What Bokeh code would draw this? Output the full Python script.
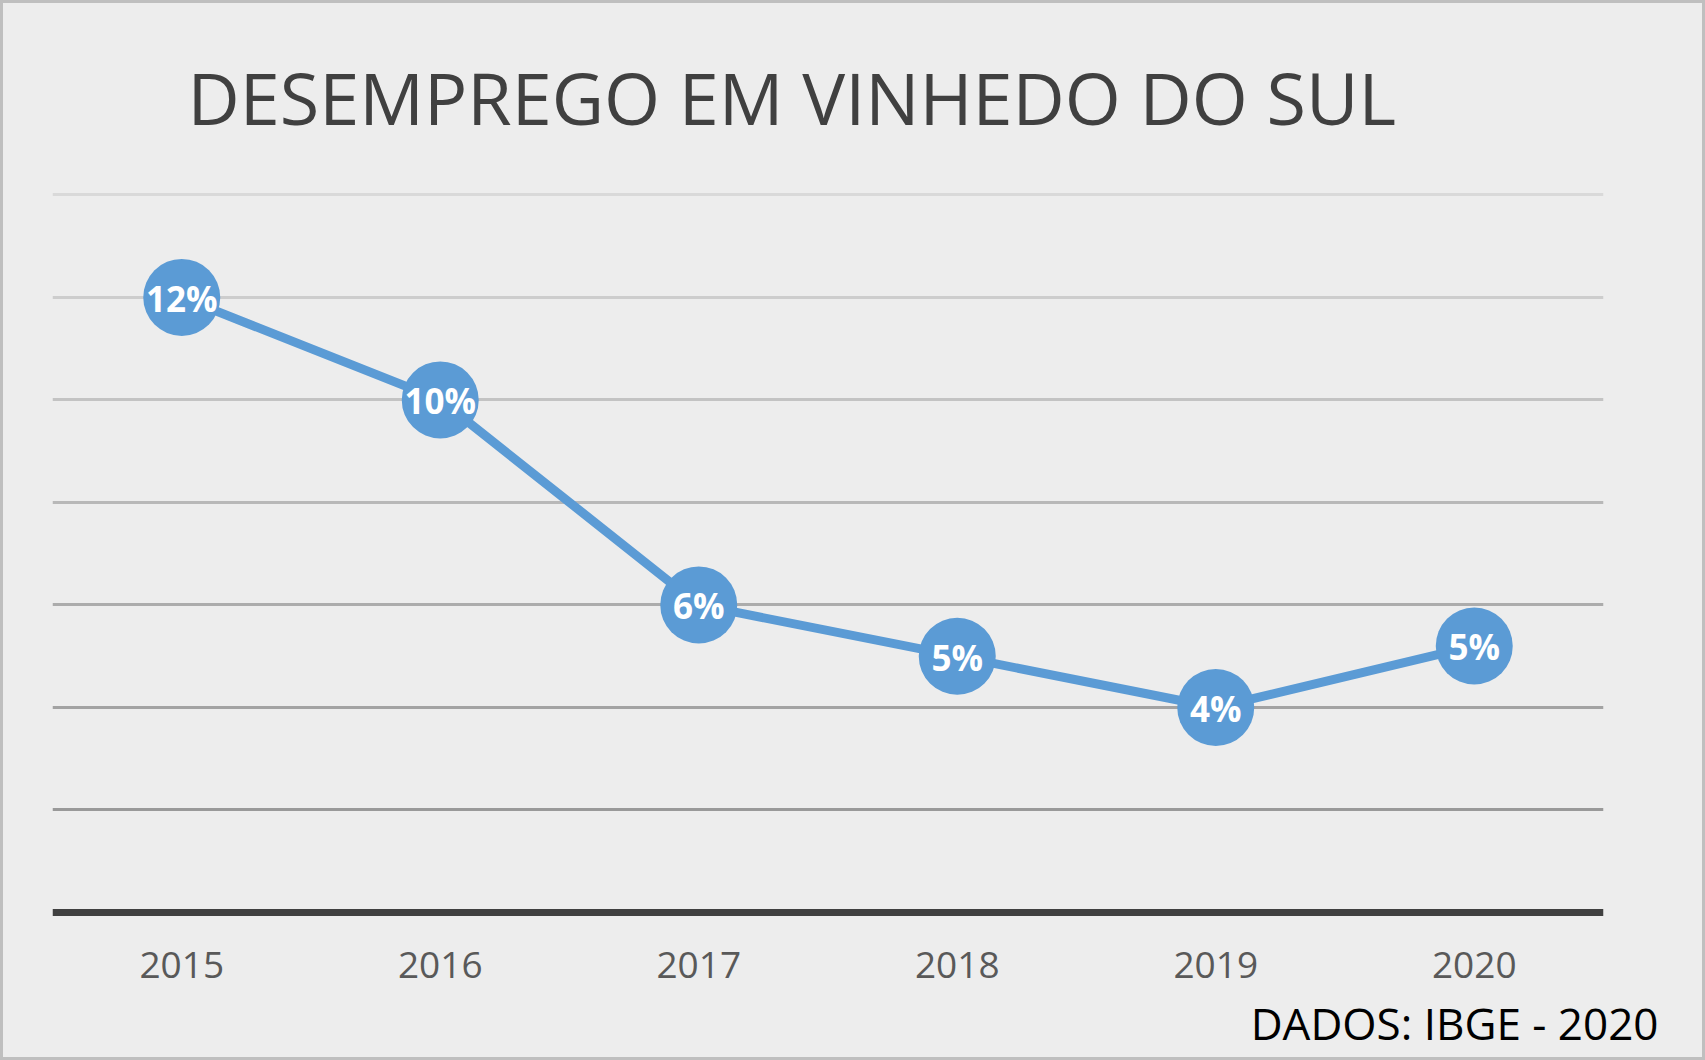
from bokeh.plotting import figure
from bokeh.models import FactorRange, Range1d, Title
from bokeh.core.properties import value
from bokeh.embed import file_html
from bokeh.resources import INLINE

# ---- data ----
years = ["2015", "2016", "2017", "2018", "2019", "2020"]
unemployment = [12.0, 10.0, 6.0, 5.0, 4.0, 5.2]
point_labels = ["12%", "10%", "6%", "5%", "4%", "5%"]
grid_values = [2, 4, 6, 8, 10, 12, 14]
grid_colors = ["#999999", "#a3a3a3", "#acacac", "#b8b8b8", "#c3c3c3", "#cdcdcd", "#d9d9d9"]
title_text = "DESEMPREGO EM VINHEDO DO SUL"
source_text = "DADOS: IBGE - 2020"

BLUE = "#5B9BD5"
BG = "#ededed"
FONT = "Open Sans"

p = figure(
    width=1705, height=1060,
    x_range=FactorRange(factors=years),
    y_range=Range1d(-0.39, 14.28),
    output_backend="svg", toolbar_location=None,
    min_border_left=49, min_border_right=105,
    min_border_top=177, min_border_bottom=126,
)
p.styles = {"border": "3px solid #bfbfbf", "background-color": BG}
p.background_fill_color = BG
p.border_fill_color = BG
p.outline_line_color = None
p.grid.visible = False
p.yaxis.visible = False

xa = p.xaxis[0]
xa.axis_line_color = None
xa.major_tick_line_color = None
xa.minor_tick_line_color = None
xa.major_label_text_font = FONT
xa.major_label_text_font_size = "37px"
xa.major_label_text_color = "#595959"
xa.major_label_standoff = 13

# gridlines (gradient from dark at bottom to light at top)
p.hspan(y=grid_values, line_color=grid_colors, line_width=3)
# baseline axis line
p.hspan(y=[0], line_color="#404040", line_width=7)

# series
p.line(x=years, y=unemployment, line_color=BLUE, line_width=9)
p.scatter(x=years, y=unemployment, size=77, fill_color=BLUE, line_color=None)
p.text(x=years, y=unemployment, text=point_labels,
       text_font=value(FONT), text_font_style="bold", text_font_size="35px",
       text_color="white", text_align="center", text_baseline="middle", y_offset=1)

# title and source
p.add_layout(Title(text=title_text, align="left", offset=135, standoff=69,
                   text_font=FONT, text_font_size="72px", text_font_style="normal",
                   text_color="#404040"), "above")
p.add_layout(Title(text=source_text, align="right", offset=-55, standoff=21,
                   text_font=FONT, text_font_size="44px", text_font_style="normal",
                   text_color="#000000"), "below")

open("out.html", "w").write(file_html(p, INLINE))
